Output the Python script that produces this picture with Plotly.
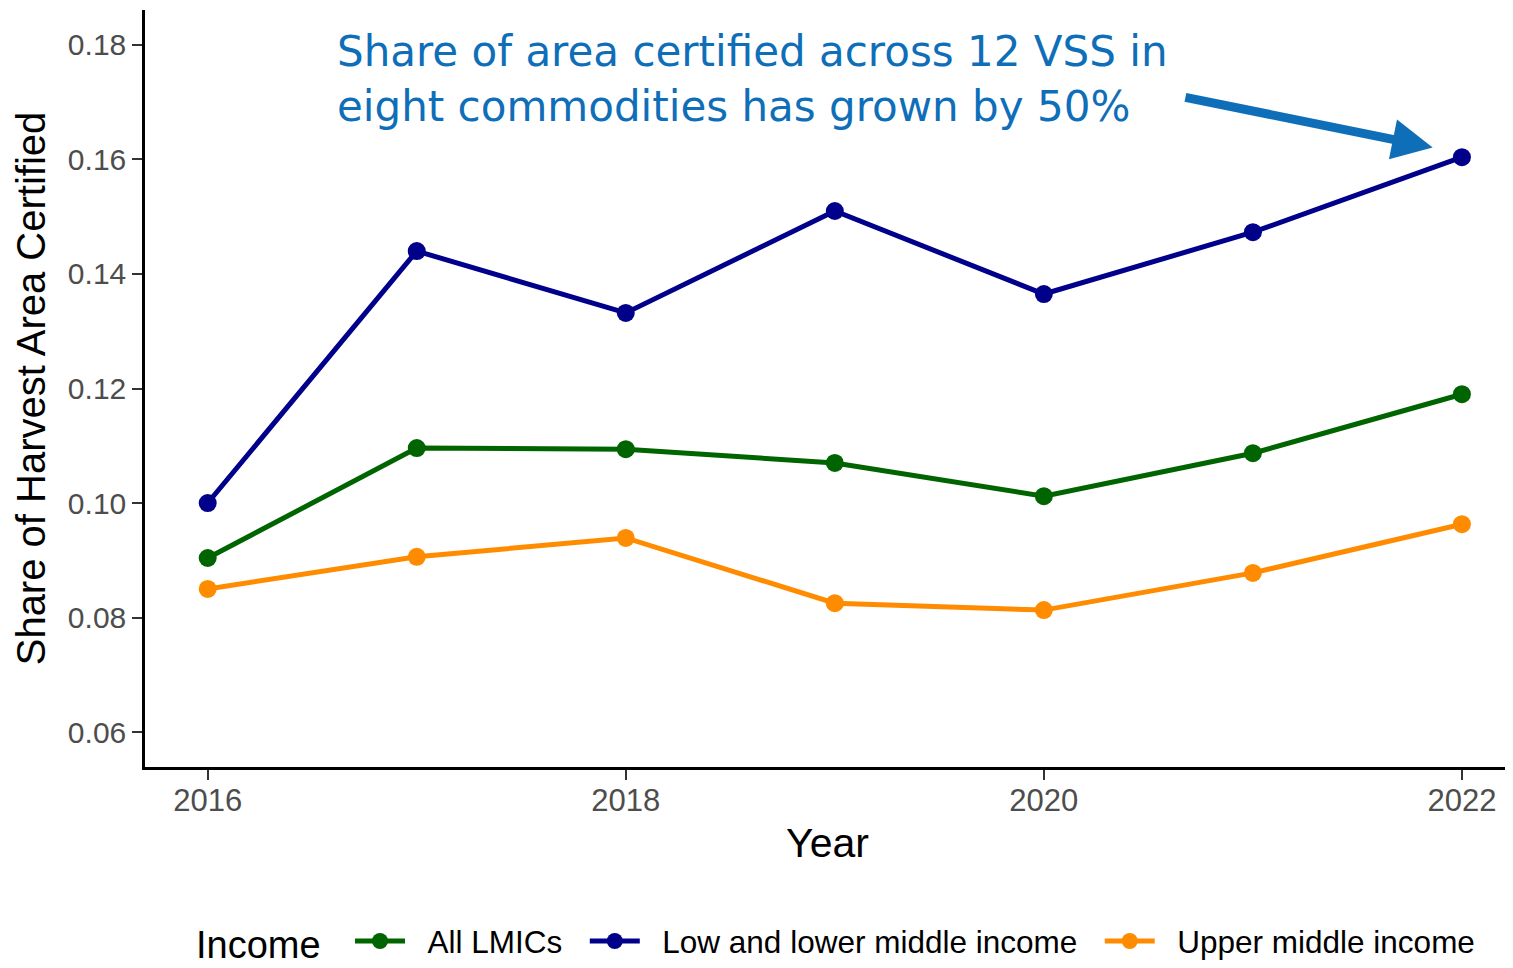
import plotly.graph_objects as go

years = [2016, 2017, 2018, 2019, 2020, 2021, 2022]
all_lmics = [0.0904, 0.1096, 0.1094, 0.1070, 0.1012, 0.1087, 0.1190]
low_lower_middle = [0.1000, 0.1440, 0.1332, 0.1510, 0.1365, 0.1473, 0.1604]
upper_middle = [0.0850, 0.0906, 0.0939, 0.0825, 0.0813, 0.0878, 0.0963]

series = [
    ("All LMICs", all_lmics, "#006400"),
    ("Low and lower middle income", low_lower_middle, "#00008B"),
    ("Upper middle income", upper_middle, "#FF8C00"),
]

NB = "\u00a0"
fig = go.Figure()
for name, vals, col in series:
    fig.add_trace(go.Scatter(
        x=years, y=vals, name=NB * 2 + name + NB * 2, mode="lines+markers",
        line=dict(color=col, width=5),
        marker=dict(color=col, size=18),
    ))

ACCENT = "#0F6EB8"
fig.add_annotation(
    x=2016.61, y=0.1741, xref="x", yref="y",
    text="Share of area certified across 12 VSS in<br>eight commodities has grown by 50%",
    showarrow=False, xanchor="left", yanchor="middle", align="left",
    font=dict(family="DejaVu Sans", size=42, color=ACCENT),
)
fig.add_annotation(
    x=2021.86, y=0.1621, ax=2020.67, ay=0.1709,
    xref="x", yref="y", axref="x", ayref="y",
    text="", showarrow=True, arrowhead=2, arrowsize=0.9, arrowwidth=9,
    arrowcolor=ACCENT,
)
# legend title
fig.add_annotation(
    x=(195 - 145) / 1365, y=(767 - 945) / 757, xref="paper", yref="paper",
    text="Income", showarrow=False, xanchor="left", yanchor="middle",
    font=dict(family="Liberation Sans", size=38, color="black"), borderpad=0,
)

# the page body has an 8px margin, so the figure is drawn 8px in from the corner
fig.update_layout(
    width=1505, height=960,
    paper_bgcolor="white", plot_bgcolor="white",
    margin=dict(l=137, r=3, t=2, b=201),
    font=dict(family="Liberation Sans", color="black"),
    xaxis=dict(
        range=[2015.70, 2022.23], tickvals=[2016, 2018, 2020, 2022],
        showline=True, linecolor="black", linewidth=2.5, mirror=False,
        ticks="outside", ticklen=10, tickcolor="#333", tickwidth=1.5,
        tickfont=dict(size=31, color="#4d4d4d"), showgrid=False, zeroline=False,
        automargin=False, ticklabelstandoff=-6,
        title=dict(text="Year", font=dict(size=41, color="black"), standoff=12),
    ),
    yaxis=dict(
        range=[0.0539, 0.1861], tickvals=[0.06, 0.08, 0.10, 0.12, 0.14, 0.16, 0.18],
        tickformat=".2f",
        showline=True, linecolor="black", linewidth=2.5,
        ticks="outside", ticklen=10, tickcolor="#333", tickwidth=1.5,
        tickfont=dict(size=30, color="#4d4d4d"), showgrid=False, zeroline=False,
        automargin=False,
        title=dict(text="Share of Harvest Area Certified", font=dict(size=40, color="black"), standoff=10),
    ),
    legend=dict(
        orientation="h", x=(350 - 8) / 1505, xanchor="left", xref="container",
        y=-0.026, yanchor="bottom", yref="container",
        font=dict(size=31.5), itemwidth=50, valign="middle",
    ),
)

fig.write_html("out.html")
